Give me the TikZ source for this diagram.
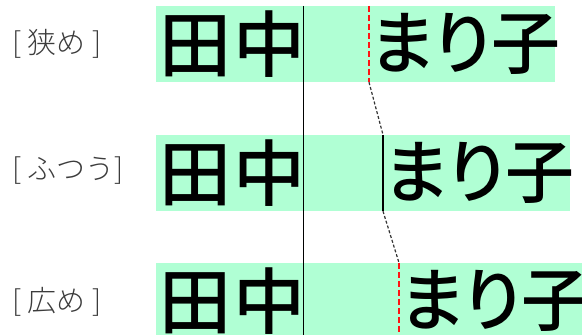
\documentclass[tikz,border=0pt]{standalone}
\usepackage{fontspec}
\newfontfamily\jpname[RawFeature=+palt, UprightFont={* Medium}]{Noto Sans CJK JP}
\newfontfamily\jptag[UprightFont={* Light}]{Noto Sans CJK JP}
\usepackage{tikz}
\usetikzlibrary{positioning}
\definecolor{mint}{RGB}{176,255,212}
\definecolor{tagtext}{RGB}{60,60,60}
\definecolor{cutcolor}{RGB}{255,20,20}
\tikzset{
  band/.style   ={fill=mint, draw=none, inner sep=0pt, minimum height=76pt, anchor=west},
  bigname/.style={font=\jpname\fontsize{72}{72}\selectfont, inner sep=0pt},
  given/.style  ={font=\jpname\fontsize{69}{69}\selectfont, inner sep=0pt},
  tagnode/.style={font=\jptag\fontsize{29}{29}\selectfont, text=tagtext, inner sep=0pt, anchor=west},
  axis/.style   ={black, line width=0.9pt},
  cutred/.style ={cutcolor, line width=2.6pt, dash pattern=on 6pt off 3pt},
  cutblk/.style ={black, line width=1.4pt},
  link/.style   ={black!80, line width=1.2pt, dash pattern=on 3pt off 2pt}
}
\begin{document}
\begin{tikzpicture}[x=1pt, y=-1pt]
  \path[use as bounding box, clip] (0,0) rectangle (582,335);

  % rows
  \node[band, minimum width=399pt] (band1) at (156,44)  {};
  \node[band, minimum width=414pt] (band2) at (156,173) {};
  \node[band, minimum width=426pt] (band3) at (156,301) {};

  % row labels
  \node[tagnode] (tag1) at (12,44)  {[ 狭め ]};
  \node[tagnode] (tag2) at (12,171) {[ ふつう]};
  \node[tagnode] (tag3) at (12,302) {[ 広め ]};

  % family name
  \node[bigname, right=3pt of band1.west] (sei1) {田\hspace{2pt}中};
  \node[bigname, right=3pt of band2.west] (sei2) {田\hspace{2pt}中};
  \node[bigname, right=3pt of band3.west] (sei3) {田\hspace{2pt}中};

  % where the given name starts
  \coordinate (base) at (303,44);
  \coordinate (cut1) at (369,44);
  \coordinate (cut2) at (383,173);
  \coordinate (cut3) at (399,301);

  % given name
  \node[given, right=1pt of cut1] (mei1) {まり子};
  \node[given, right=1pt of cut2] (mei2) {まり子};
  \node[given, right=1pt of cut3] (mei3) {まり子};

  % end of family name
  \draw[axis] (base |- band1.north) -- (base |- band3.south);
  % start of given name
  \draw[cutred] (cut1 |- band1.north) -- (cut1 |- band1.south);
  \draw[link]   (cut1 |- band1.south) -- (cut2 |- band2.north);
  \draw[cutblk] (cut2 |- band2.north) -- (cut2 |- band2.south);
  \draw[link]   (cut2 |- band2.south) -- (cut3 |- band3.north);
  \draw[cutred] (cut3 |- band3.north) -- (cut3 |- band3.south);
\end{tikzpicture}
\end{document}
